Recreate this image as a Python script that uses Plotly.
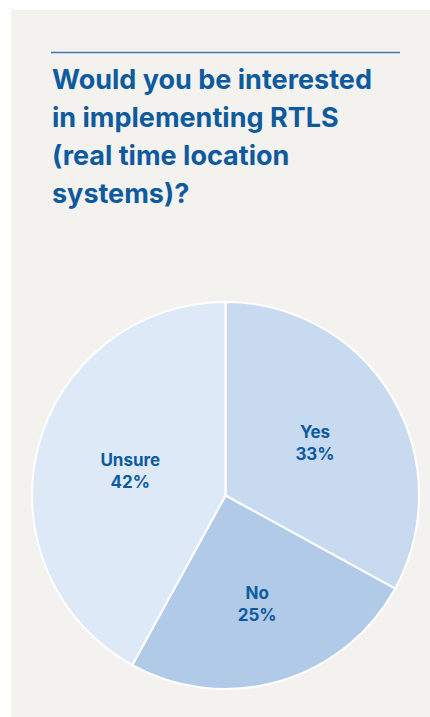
import plotly.graph_objects as go

# Survey answers
answers = ["Yes", "No", "Unsure"]
shares = [33, 25, 42]
slice_colors = ["#c8daf0", "#b0cae8", "#dde9f6"]

title_lines = [
    "Would you be interested",
    "in implementing RTLS",
    "(real time location",
    "systems)?",
]

W, H = 430, 717
BLUE = "#0e5a9e"
PANEL = "#f3f2ef"
FONT = "Inter"


def px_x(x):
    return x / W


def px_y(y):
    return 1 - y / H


fig = go.Figure()

fig.add_trace(
    go.Pie(
        labels=answers,
        values=shares,
        sort=False,
        direction="clockwise",
        rotation=0,
        marker=dict(colors=slice_colors, line=dict(color="#ffffff", width=2)),
        texttemplate="%{label}<br>%{value}%",
        textposition="inside",
        insidetextorientation="horizontal",
        textfont=dict(family=FONT, size=17, weight=700, color=BLUE),
        hoverinfo="label+percent",
        showlegend=False,
        domain=dict(x=[px_x(32), px_x(419)], y=[px_y(689), px_y(302)]),
    )
)

shapes = [
    # card background
    dict(type="rect", xref="paper", yref="paper",
         x0=px_x(11), x1=1.0, y0=0.0, y1=px_y(10),
         fillcolor=PANEL, line=dict(width=0), layer="below"),
    # rule above the heading
    dict(type="line", xref="paper", yref="paper",
         x0=px_x(51), x1=px_x(400), y0=px_y(52.5), y1=px_y(52.5),
         line=dict(color="#3f78b3", width=1.5)),
]

annotations = []
baselines = [89, 127, 165, 203]
for line, base in zip(title_lines, baselines):
    annotations.append(
        dict(
            text=line,
            xref="paper", yref="paper",
            x=px_x(50), y=px_y(base - 10),
            xanchor="left", yanchor="middle",
            showarrow=False,
            font=dict(family=FONT, size=27, weight=700, color=BLUE),
        )
    )

fig.update_layout(
    width=W,
    height=H,
    margin=dict(l=0, r=0, t=0, b=0),
    paper_bgcolor="#ffffff",
    plot_bgcolor="#ffffff",
    shapes=shapes,
    annotations=annotations,
)

fig.write_html("out.html")
